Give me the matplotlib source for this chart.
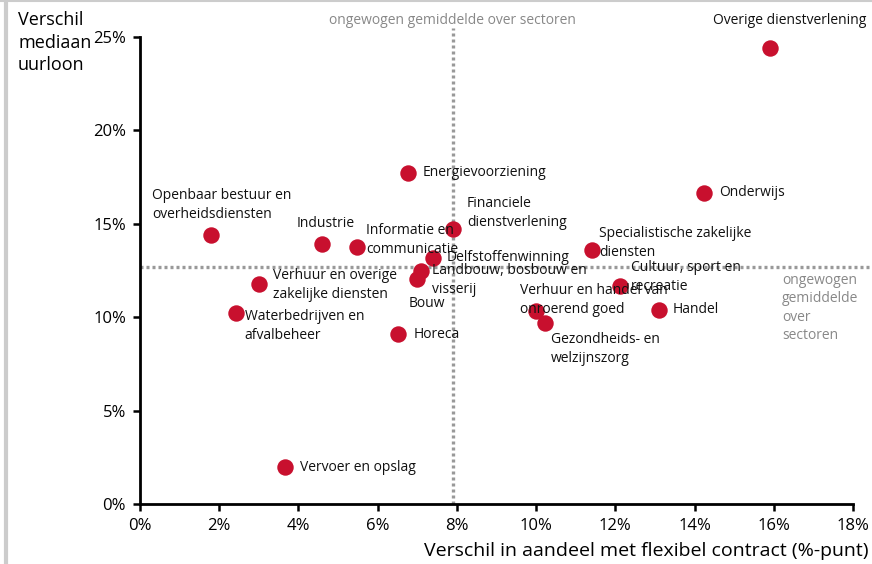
import matplotlib.pyplot as plt
from matplotlib.lines import Line2D
from matplotlib.ticker import FuncFormatter

sectors = [
    "Overige dienstverlening", "Onderwijs", "Energievoorziening",
    "Openbaar bestuur en\noverheidsdiensten", "Industrie", "Informatie en\ncommunicatie",
    "Financiele\ndienstverlening", "Delfstoffenwinning", "Landbouw, bosbouw en\nvisserij",
    "Bouw", "Specialistische zakelijke\ndiensten", "Cultuur, sport en\nrecreatie",
    "Verhuur en handel van\nonroerend goed", "Gezondheids- en\nwelzijnszorg", "Handel",
    "Verhuur en overige\nzakelijke diensten", "Waterbedrijven en\nafvalbeheer", "Horeca",
    "Vervoer en opslag",
]
flex_diff = [15.9, 14.24, 6.77, 1.79, 4.6, 5.48, 7.9, 7.4, 7.1, 7.0, 11.41, 12.12,
             10.0, 10.23, 13.1, 3.0, 2.42, 6.52, 3.66]
wage_diff = [24.4, 16.65, 17.72, 14.4, 13.92, 13.76, 14.72, 13.17, 12.47, 12.04, 13.6,
             11.67, 10.33, 9.69, 10.39, 11.78, 10.22, 9.1, 1.98]
mean_flex = 7.9
mean_wage = 12.69

# label offsets in pixels (dx, dy) and alignment
offsets = [(20, 28, 'center'), (15, 0, 'left'), (14, 0, 'left'), (-59, 30, 'left'),
           (-26, 20, 'left'), (9, 7, 'left'), (14, 16, 'left'), (14, 0, 'left'),
           (11, -9, 'left'), (-9, -24, 'left'), (7, 7, 'left'), (11, 9, 'left'),
           (-16, 11, 'left'), (6, -26, 'left'), (14, 0, 'left'), (14, -1, 'left'),
           (9, -13, 'left'), (15, 0, 'left'), (15, 0, 'left')]

plt.rcParams['font.family'] = ['Open Sans', 'DejaVu Sans']

fig = plt.figure(figsize=(8.72, 5.64), dpi=100)
ax = fig.add_axes([140/872, 1 - 504/564, 713/872, 467/564])

grey = '#999999'
ax.plot([mean_flex, mean_flex], [0, 25.5], color=grey, lw=2.4, ls=(0, (0.9, 0.9)),
        clip_on=False, zorder=1)
ax.plot([0, 18.5], [mean_wage, mean_wage], color=grey, lw=2.4, ls=(0, (0.9, 0.9)),
        clip_on=False, zorder=1)

ax.scatter(flex_diff, wage_diff, s=140, color='#c8102e', zorder=3, linewidths=0)

for name, x, y, (dx, dy, ha) in zip(sectors, flex_diff, wage_diff, offsets):
    ax.annotate(name, (x, y), xytext=(dx, dy), textcoords='offset pixels',
                ha=ha, va='center', fontsize=10, color='#111111',
                linespacing=1.3, zorder=4)

ax.text(mean_flex, 25.9, "ongewogen gemiddelde over sectoren", ha='center', va='center',
        fontsize=10, color='#888888', clip_on=False)
ax.text(16.21, 10.49, "ongewogen\ngemiddelde\nover\nsectoren", ha='left',
        va='center', fontsize=10, color='#888888', linespacing=1.3, clip_on=False)

ax.set_xlim(0, 18)
ax.set_ylim(0, 25)
ax.set_xticks(range(0, 19, 2))
ax.set_yticks(range(0, 26, 5))
pct = FuncFormatter(lambda v, p: f"{v:.0f}%")
ax.xaxis.set_major_formatter(pct)
ax.yaxis.set_major_formatter(pct)
for s in ['top', 'right']:
    ax.spines[s].set_visible(False)
for s in ['left', 'bottom']:
    ax.spines[s].set_linewidth(2)
ax.tick_params(direction='out', length=5, width=1.8, labelsize=12, pad=5)

fig.text(18/872, 1 - 11/564, "Verschil\nmediaan\nuurloon", ha='left', va='top',
         fontsize=13, linespacing=1.33)
fig.text(868/872, 1 - 551/564, "Verschil in aandeel met flexibel contract (%-punt)",
         ha='right', va='center', fontsize=14)

# frame remnants of the screenshot
fig.add_artist(Line2D([6/872, 6/872], [0, 1], color='#cccccc', lw=3, transform=fig.transFigure))
fig.add_artist(Line2D([0, 1], [1 - 1/564, 1 - 1/564], color='#cccccc', lw=1.5, transform=fig.transFigure))

fig.savefig('out.png', dpi=100)
